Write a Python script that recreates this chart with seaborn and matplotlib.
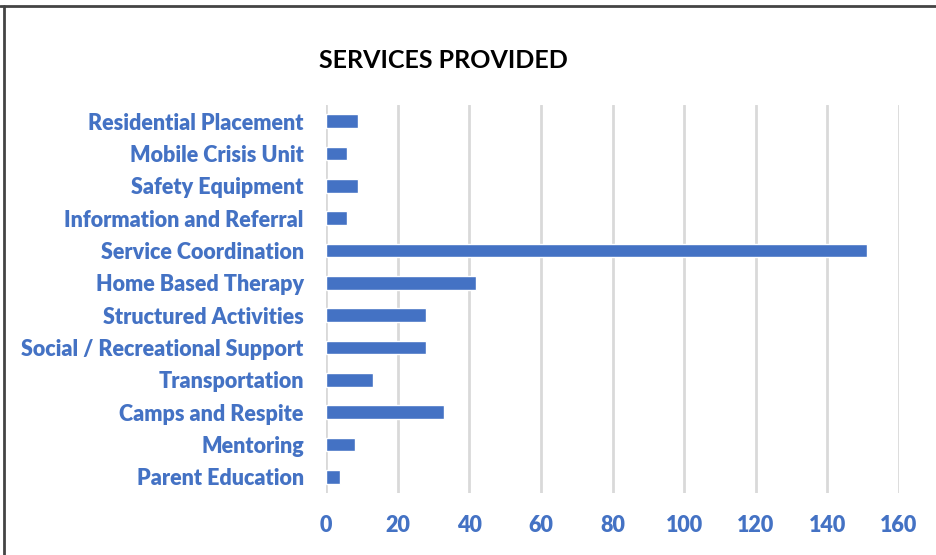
import matplotlib
matplotlib.use("Agg")
import matplotlib.pyplot as plt
import seaborn as sns
import pandas as pd
from matplotlib.lines import Line2D

categories = ["Residential Placement", "Mobile Crisis Unit", "Safety Equipment",
              "Information and Referral", "Service Coordination", "Home Based Therapy",
              "Structured Activities", "Social / Recreational Support", "Transportation",
              "Camps and Respite", "Mentoring", "Parent Education"]
values = [9, 6, 9, 6, 151, 42, 28, 28, 13, 33, 8, 4]
xticks = [0, 20, 40, 60, 80, 100, 120, 140, 160]

sns.set_theme(style="white")
plt.rcParams['font.family'] = ['Lato', 'DejaVu Sans']

df = pd.DataFrame({"service": categories, "count": values})

fig = plt.figure(figsize=(9.36, 5.55), dpi=100)
ax = fig.add_axes([0.3483, 0.1117, 0.9605 - 0.3483, 0.8108 - 0.1117])
blue = "#4472C4"
sns.barplot(data=df, y="service", x="count", orient="h", color=blue,
            width=0.42, saturation=1, ax=ax, zorder=3)
ax.set_xlim(0, 160)
ax.set_ylim(11.5, -0.5)
ax.set_xticks(xticks)
ax.set_xticklabels([str(t) for t in xticks])
ax.xaxis.grid(True, color="#D9D9D9", linewidth=2, zorder=0)
ax.yaxis.grid(False)
ax.set_axisbelow(True)
for s in ax.spines.values():
    s.set_visible(False)
ax.set_xlabel("")
ax.set_ylabel("")
ax.tick_params(axis="both", length=0)
ax.tick_params(axis="y", pad=16)
ax.tick_params(axis="x", pad=16)
for lab in ax.get_yticklabels() + ax.get_xticklabels():
    lab.set_color(blue)
    lab.set_fontweight("heavy")
    lab.set_fontsize(15.5)

fig.text(443 / 936, 1 - 60 / 555, "SERVICES PROVIDED", ha="center", va="center",
         fontsize=18, fontweight="bold", color="black")

fig.add_artist(Line2D([0, 1], [1 - 6 / 555, 1 - 6 / 555], transform=fig.transFigure,
                      color="#444444", linewidth=2))
fig.add_artist(Line2D([4 / 936, 4 / 936], [0, 1 - 6 / 555], transform=fig.transFigure,
                      color="#444444", linewidth=2))

fig.savefig("out.png", dpi=100)
